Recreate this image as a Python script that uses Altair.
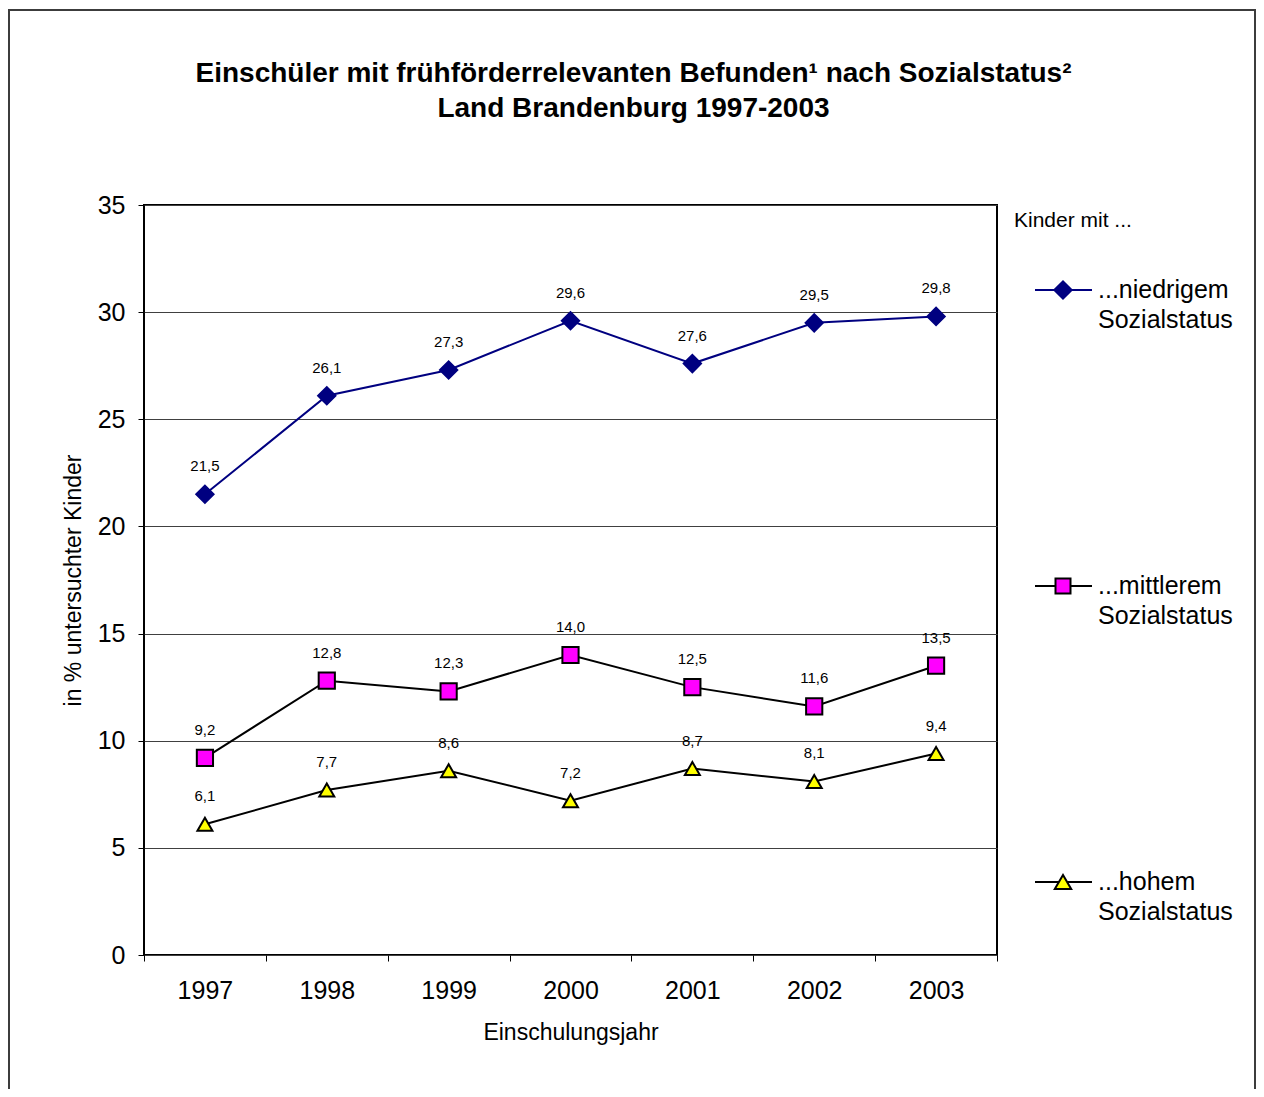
import altair as alt
import pandas as pd

# ---- data ----
years = [1997, 1998, 1999, 2000, 2001, 2002, 2003]
series_names = ["niedrig", "mittel", "hoch"]
niedrig = [21.5, 26.1, 27.3, 29.6, 27.6, 29.5, 29.8]
mittel = [9.2, 12.8, 12.3, 14.0, 12.5, 11.6, 13.5]
hoch = [6.1, 7.7, 8.6, 7.2, 8.7, 8.1, 9.4]
legend_lines = [["...niedrigem", "Sozialstatus"],
                ["...mittlerem", "Sozialstatus"],
                ["...hohem", "Sozialstatus"]]
y_ticks = [0, 5, 10, 15, 20, 25, 30, 35]
title_lines = ["Einschüler mit frühförderrelevanten Befunden¹ nach Sozialstatus²",
               "Land Brandenburg 1997-2003"]

line_colors = ["#000080", "#000000", "#000000"]
fill_colors = ["#000080", "#FF00FF", "#FFFF00"]
shapes = ["diamond", "square", "triangle-up"]
marker_sizes = [300, 225, 270]

rows = []
for name, vals in zip(series_names, [niedrig, mittel, hoch]):
    for yr, v in zip(years, vals):
        rows.append({"series": name, "year": yr, "value": v,
                     "label": f"{v:.1f}".replace(".", ",")})
df = pd.DataFrame(rows)

FONT = "Liberation Sans"
W, H = 853, 750

x_tick_vals = [y - 0.5 for y in years] + [years[-1] + 0.5]

x_enc = alt.X(
    "year:Q",
    scale=alt.Scale(domain=[years[0] - 0.5, years[-1] + 0.5], nice=False, zero=False),
    axis=alt.Axis(
        values=x_tick_vals,
        labelExpr=f"datum.value > {years[-1]} ? '' : format(datum.value + 0.5, 'd')",
        labelOffset=W / len(years) / 2,
        labelFlush=False,
        grid=False,
        tickSize=6,
        labelFontSize=25,
        labelPadding=17,
        title="Einschulungsjahr",
        titleFontSize=23,
        titlePadding=18,
    ),
)
y_enc = alt.Y(
    "value:Q",
    scale=alt.Scale(domain=[0, 35], nice=False),
    axis=alt.Axis(
        values=y_ticks,
        grid=True,
        tickSize=6,
        labelFontSize=25,
        labelPadding=13,
        title="in % untersuchter Kinder",
        titleFontSize=23,
        titlePadding=12,
    ),
)

color_scale = alt.Scale(domain=series_names, range=line_colors)
fill_scale = alt.Scale(domain=series_names, range=fill_colors)
shape_scale = alt.Scale(domain=series_names, range=shapes)
size_scale = alt.Scale(domain=series_names, range=marker_sizes)

base = alt.Chart(df)

lines = base.mark_line(strokeWidth=2).encode(
    x=x_enc, y=y_enc,
    color=alt.Color("series:N", scale=color_scale, legend=None),
)
points = base.mark_point(filled=True, opacity=1, strokeWidth=2).encode(
    x=x_enc, y=y_enc,
    fill=alt.Fill("series:N", scale=fill_scale, legend=None),
    stroke=alt.Stroke("series:N", scale=color_scale, legend=None),
    shape=alt.Shape("series:N", scale=shape_scale, legend=None),
    size=alt.Size("series:N", scale=size_scale, legend=None),
)
labels = base.mark_text(dy=-28, fontSize=15, font=FONT, color="black", baseline="middle").encode(
    x=x_enc, y=y_enc, text="label:N"
)

# outer frame
frame = alt.Chart(pd.DataFrame({"a": [0]})).mark_rect(
    fill="white", fillOpacity=0, stroke="#3c3c3c", strokeWidth=2
).encode(
    x=alt.value(-135), x2=alt.value(1111), y=alt.value(-195), y2=alt.value(950)
)

# legend
legend_layers = []
header = alt.Chart(pd.DataFrame({"a": [0]})).mark_text(
    align="left", baseline="middle", fontSize=21, font=FONT, color="black"
).encode(x=alt.value(870), y=alt.value(16), text=alt.value("Kinder mit ..."))
legend_layers.append(header)

leg_y = [85, 381, 677]
for i, name in enumerate(series_names):
    d = pd.DataFrame({"series": [name]})
    rule = alt.Chart(d).mark_rule(strokeWidth=2, color=line_colors[i]).encode(
        x=alt.value(891), x2=alt.value(948), y=alt.value(leg_y[i])
    )
    pt = alt.Chart(d).mark_point(
        filled=True, opacity=1, size=marker_sizes[i], strokeWidth=2,
        shape=shapes[i], fill=fill_colors[i], stroke=line_colors[i]
    ).encode(x=alt.value(919), y=alt.value(leg_y[i]))
    txt = alt.Chart(d).mark_text(
        align="left", baseline="middle", fontSize=25, font=FONT, color="black", lineHeight=30
    ).encode(x=alt.value(954), y=alt.value(leg_y[i]), text=alt.value(legend_lines[i]))
    legend_layers += [rule, pt, txt]

chart = alt.layer(frame, lines, points, labels, *legend_layers).properties(
    width=W,
    height=H,
    padding={"left": 136, "top": 197, "right": 259, "bottom": 134},
    autosize=alt.AutoSizeParams(type="none"),
    title=alt.TitleParams(
        title_lines,
        fontSize=28,
        font=FONT,
        fontWeight="bold",
        color="black",
        anchor="middle",
        dx=63,
        offset=-114,
        lineHeight=35,
    ),
).configure_view(
    stroke="black", strokeWidth=2
).configure_axis(
    labelFont=FONT, titleFont=FONT, labelColor="black", titleColor="black",
    tickColor="black", domain=False, gridColor="#404040", gridWidth=1,
    titleFontWeight="normal",
)

chart.save("out.html", embed_options={"renderer": "svg", "actions": False})
